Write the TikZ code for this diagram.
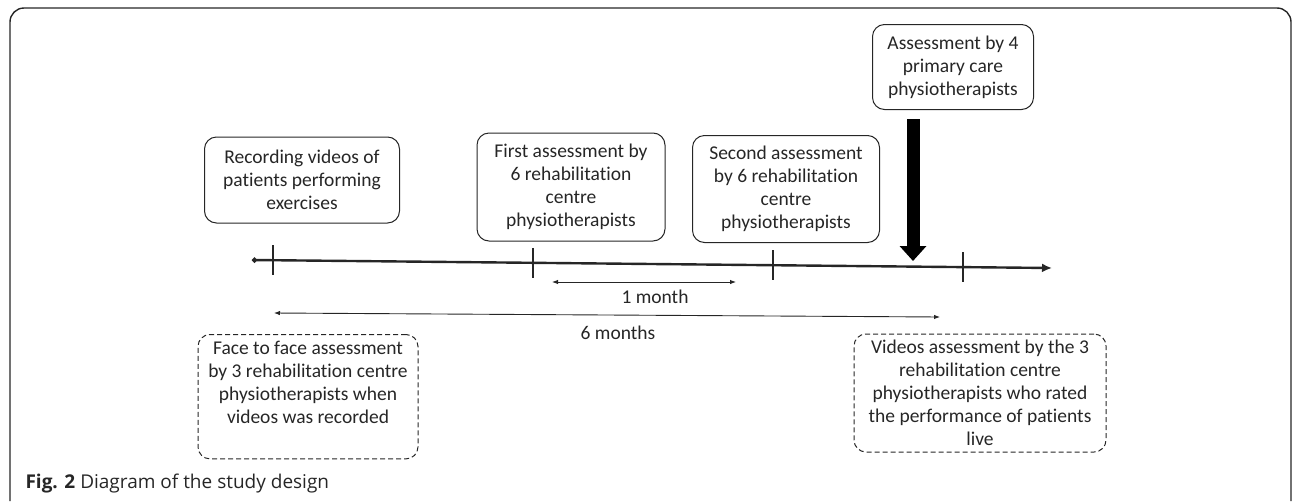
\documentclass[tikz,border=0pt]{standalone}
\usepackage{fontspec}
\setmainfont[Ligatures=NoCommon]{Carlito}
\newfontfamily\capfont{Open Sans}
\usepackage{tikz}
\usetikzlibrary{arrows.meta, calc, positioning}
\definecolor{inkGray}{gray}{0.15}

\tikzset{
  event/.style={draw=inkGray, line width=1pt, rounded corners=12pt, align=center, text=inkGray,
    font=\fontsize{19.5}{23}\selectfont, inner sep=2pt},
  later/.style={event, dash pattern=on 5pt off 3pt},
  tickmark/.style={inkGray, line width=1.6pt},
  span/.style={inkGray, line width=0.9pt, {Latex[length=6pt,width=4.5pt]}-{Latex[length=6pt,width=4.5pt]}}
}

\begin{document}
\begin{tikzpicture}[x=1pt, y=-1pt]
	\useasboundingbox (0,0) rectangle (1292,501);
	% frame
	\draw[inkGray, line width=1.4pt, rounded corners=14pt] (10,501) -- (10,8) -- (1291,8) -- (1291,501);

	% events above the line
	\node[event, minimum width=195pt, minimum height=86pt] (rec) at (302,180) {Recording videos of\\patients performing\\exercises};
	\node[event, minimum width=188pt, minimum height=108pt] (first) at (571,187) {First assessment by\\6 rehabilitation\\centre\\physiotherapists};
	\node[event, minimum width=187pt, minimum height=107pt] (second) at (786,189) {Second assessment\\by 6 rehabilitation\\centre\\physiotherapists};
	\node[event, minimum width=161pt, minimum height=85pt] (prim) at (953,67) {Assessment by 4\\primary care\\physiotherapists};

	% events below the line
	\node[later, minimum width=220pt, inner ysep=7pt, text depth=28pt, anchor=north] (face) at (308,334) {Face to face assessment\\by 3 rehabilitation centre\\physiotherapists when\\videos was recorded};
	\node[later, minimum width=252pt, minimum height=118pt] (live) at (980,393) {Videos assessment by the 3\\rehabilitation centre\\physiotherapists who rated\\the performance of patients\\live};

	% time line
	\coordinate (start) at (252,260);
	\coordinate (end) at (1052,268);
	\draw[inkGray, line width=2.4pt, {Circle[length=5pt]}-{Latex[length=10pt,width=9pt]}] (start) -- (end);
	\foreach \x/\y in {273/260.2, 533/262.8, 773/265.2, 963/267.1}
		\draw[tickmark] (\x,\y) ++(0,-15) -- ++(0,30);

	% spans
	\coordinate (m1a) at (552,282);
	\coordinate (m1b) at (736,282);
	\draw[span] (m1a) -- (m1b);
	\node[text=inkGray, font=\fontsize{19.5}{23}\selectfont] (m1) at (655,297) {1 month};
	\coordinate (m6a) at (274,313);
	\coordinate (m6b) at (940,317);
	\draw[span] (m6a) -- (m6b);
	\node[text=inkGray, font=\fontsize{19.5}{23}\selectfont] (m6) at (618,333) {6 months};

	% primary care arrow
	\coordinate (drop) at (913,119);
	\coordinate (hit) at (913,261);
	\draw[black, line width=13pt, -{Triangle[length=15pt,width=26pt]}] (drop) -- (hit);

	\node[anchor=west, text=inkGray, font=\capfont\fontsize{19}{22}\selectfont] (cap) at (22,484) {\textbf{Fig. 2} Diagram of the study design};
\end{tikzpicture}
\end{document}
